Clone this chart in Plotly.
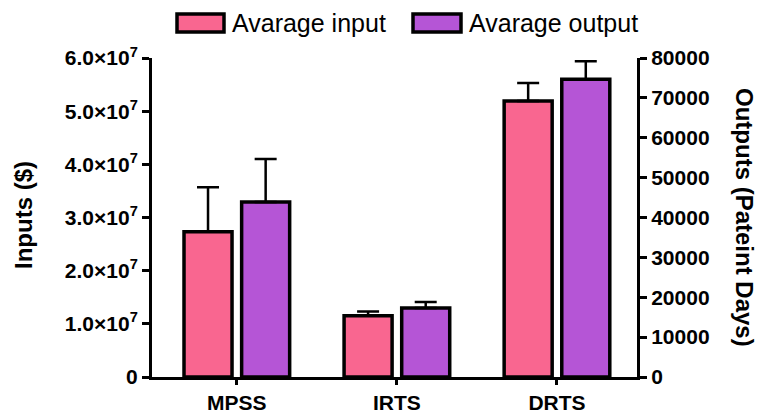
import plotly.graph_objects as go

categories = ["MPSS", "IRTS", "DRTS"]
input_mean = [2.73e7, 1.15e7, 5.19e7]
input_err = [0.84e7, 0.08e7, 0.34e7]
output_mean = [43900, 17300, 74700]
output_err = [10800, 1500, 4500]

left_tickvals = [0, 1e7, 2e7, 3e7, 4e7, 5e7, 6e7]
left_ticktext = ["0", "1.0×10<sup>7</sup>", "2.0×10<sup>7</sup>", "3.0×10<sup>7</sup>",
                 "4.0×10<sup>7</sup>", "5.0×10<sup>7</sup>", "6.0×10<sup>7</sup>"]
right_tickvals = [0, 10000, 20000, 30000, 40000, 50000, 60000, 70000, 80000]
right_ticktext = [str(v) for v in right_tickvals]
series_names = ["Avarage input", "Avarage output"]
left_title = "Inputs ($)"
right_title = "Outputs (Pateint Days)"

PINK = "#F96690"
PURPLE = "#B555D6"
FONT = "Liberation Sans, Arial, sans-serif"

W, H = 758, 415
ML, MR, MT, MB = 152, 121, 58, 38
PW, PH = W - ML - MR, H - MT - MB


def px_to_paper_x(px):
    return (px - ML) / PW


def px_to_paper_y(py):
    return (H - MB - py) / PH


fig = go.Figure()
fig.add_trace(go.Bar(
    x=categories, y=input_mean, name=series_names[0],
    marker=dict(color=PINK, line=dict(color="black", width=3.5)),
    width=0.3, offset=-0.33,
    error_y=dict(type="data", array=input_err, arrayminus=[0] * 3, symmetric=False,
                 color="black", thickness=2.5, width=11),
    yaxis="y", showlegend=False,
))
fig.add_trace(go.Bar(
    x=categories, y=output_mean, name=series_names[1],
    marker=dict(color=PURPLE, line=dict(color="black", width=3.5)),
    width=0.3, offset=0.03,
    error_y=dict(type="data", array=output_err, arrayminus=[0] * 3, symmetric=False,
                 color="black", thickness=2.5, width=11),
    yaxis="y2", showlegend=False,
))

# legend drawn as swatches + text
legend_items = [(series_names[0], PINK, 177, 224), (series_names[1], PURPLE, 413, 461)]
shapes = []
annotations = []
for name, col, x0, x1 in legend_items:
    shapes.append(dict(type="rect", xref="paper", yref="paper",
                       x0=px_to_paper_x(x0), x1=px_to_paper_x(x1),
                       y0=px_to_paper_y(32), y1=px_to_paper_y(14),
                       fillcolor=col, line=dict(color="black", width=3.5)))
    annotations.append(dict(text=name, xref="paper", yref="paper",
                            x=px_to_paper_x(x1 + 6), y=px_to_paper_y(23),
                            xanchor="left", yanchor="middle", showarrow=False,
                            font=dict(size=25, family=FONT, color="black")))

annotations.append(dict(
    text=left_title, textangle=-90, xref="paper", yref="paper",
    x=px_to_paper_x(23), y=px_to_paper_y(215), xanchor="center", yanchor="middle",
    showarrow=False, font=dict(size=24, family=FONT, weight="bold", color="black"),
))
annotations.append(dict(
    text=right_title, textangle=90, xref="paper", yref="paper",
    x=px_to_paper_x(745), y=px_to_paper_y(217), xanchor="center", yanchor="middle",
    showarrow=False, font=dict(size=24, family=FONT, weight="bold", color="black"),
))

axis_common = dict(showgrid=False, zeroline=False, automargin=False,
                   showline=True, linecolor="black", linewidth=3, tickcolor="black",
                   ticks="outside", tickfont=dict(size=21, family=FONT, weight="bold"))

fig.update_layout(
    width=W, height=H,
    margin=dict(l=ML, r=MR, t=MT, b=MB, autoexpand=False),
    paper_bgcolor="white", plot_bgcolor="white",
    font=dict(family=FONT, color="black"),
    barmode="group",
    showlegend=False,
    xaxis=dict(range=[-0.53, 2.5], ticklen=5, tickwidth=2.5, **axis_common),
    yaxis=dict(range=[0, 6e7], tickvals=left_tickvals, ticktext=left_ticktext,
               ticklen=7, tickwidth=3, **axis_common),
    yaxis2=dict(range=[0, 80000], tickvals=right_tickvals, ticktext=right_ticktext,
                overlaying="y", side="right", ticklen=7, tickwidth=3, **axis_common),
    shapes=shapes,
    annotations=annotations,
)

fig.write_html("out.html", config={"displayModeBar": False},
               post_script="document.body.style.margin='0';document.body.style.overflow='hidden';")
